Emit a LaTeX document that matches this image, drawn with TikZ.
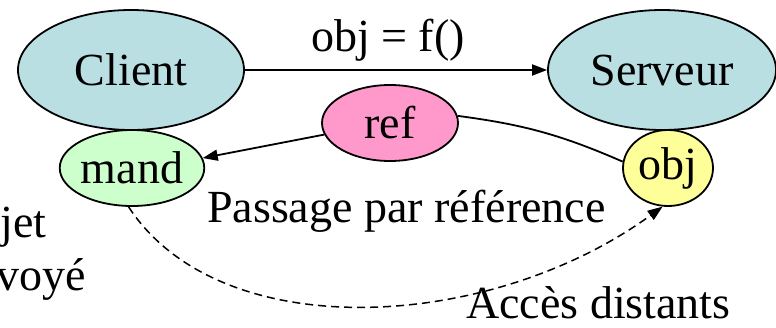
\documentclass[tikz,border=0pt]{standalone}
\usepackage{fontspec}
\setmainfont{LiberationSerif}[Extension=.ttf,UprightFont=*-Regular,BoldFont=*-Bold]
\usetikzlibrary{shapes.geometric,arrows.meta}
\definecolor{cyanfill}{RGB}{185,223,227}
\definecolor{greenfill}{RGB}{204,255,204}
\definecolor{pinkfill}{RGB}{255,153,204}
\definecolor{yellowfill}{RGB}{255,255,153}
\tikzset{
  bubble/.style={ellipse,draw=black,line width=1.8pt,inner sep=0pt},
  bigtext/.style={font=\rmfamily\fontsize{46}{50}\selectfont},
  conn/.style={line width=1.8pt,-{Triangle[length=15pt,width=11pt]}},
  plain/.style={line width=1.8pt},
  dashconn/.style={line width=1.5pt,dash pattern=on 8pt off 5pt,-{Triangle[length=15pt,width=11pt]}},
  lbl/.style={bigtext,inner sep=0pt,anchor=base west}
}
\begin{document}
\begin{tikzpicture}[x=1pt,y=1pt]
\clip (0,0) rectangle (776,327);
\node[bubble,bigtext,fill=cyanfill,minimum width=226pt,minimum height=120pt] (client) at (131,257) {Client};
\node[bubble,bigtext,fill=cyanfill,minimum width=228pt,minimum height=120pt] (serveur) at (662,257) {Serveur};
\node[bubble,bigtext,fill=greenfill,minimum width=136pt,minimum height=76pt] (mand) at (132,159) {mand};
\node[bubble,bigtext,fill=pinkfill,minimum width=136pt,minimum height=76pt] (ref) at (390,204) {ref};
\node[bubble,bigtext,fill=yellowfill,minimum width=90pt,minimum height=76pt] (obj) at (668,159) {obj};

\draw[conn] (client.east) -- (serveur.west);
\node[lbl] (call) at (311,275) {obj = f()};
\draw[conn] (ref.190) -- (mand.8);
\draw[plain] (ref.6) to[bend left=8] (obj.172);
\draw[dashconn] (mand.265) .. controls (220,-20) and (490,-5) .. (obj.262);

\node[lbl] (pass) at (207,105) {Passage par référence};
\node[lbl] (acces) at (466,9) {Accès distants};
\node[lbl] (objet) at (-56,90) {Objet};
\node[lbl] (renv) at (-62,37) {renvoyé};
\end{tikzpicture}
\end{document}
